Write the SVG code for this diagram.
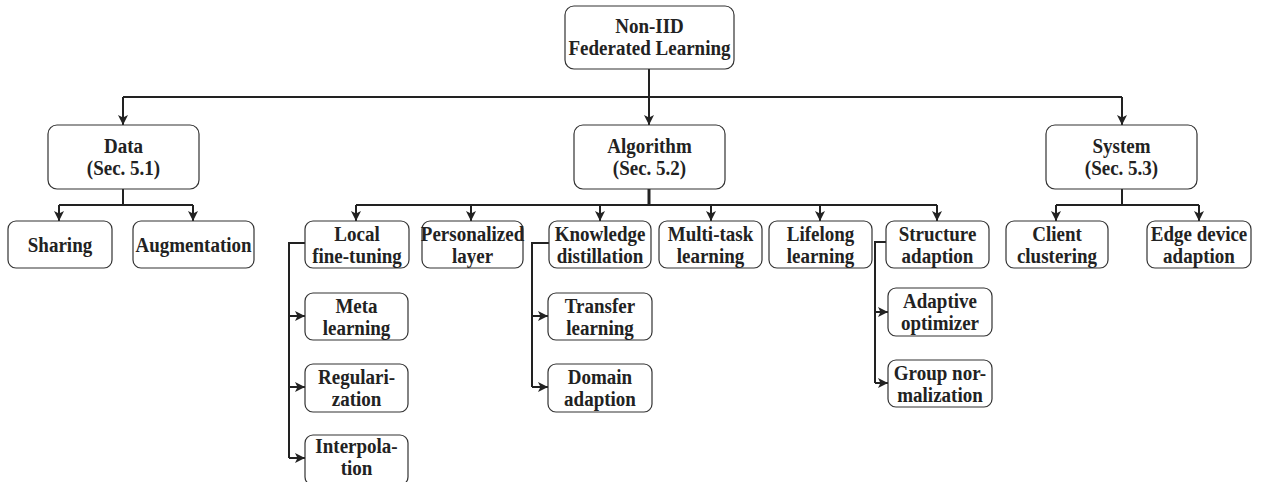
<svg xmlns="http://www.w3.org/2000/svg" width="1265" height="482" viewBox="0 0 1265 482">
<defs>
<style>
.box{fill:#fff;stroke:#333;stroke-width:1.2}
.t{font-family:"Liberation Serif","Times New Roman",serif;font-weight:bold;font-size:19px;fill:#222;text-anchor:middle}
.c{fill:none;stroke:#222;stroke-width:2}
</style>
<marker id="ah" markerUnits="userSpaceOnUse" markerWidth="10" markerHeight="10" viewBox="0 0 10 10" refX="10" refY="5" orient="auto">
<path d="M0,0 L10,5 L0,10 L2.5,5 z" fill="#222"/>
</marker>
</defs>
<rect width="1265" height="482" fill="#fff"/>
<g id="connectors">
<path class="c" d="M649,69 V97"/>
<path class="c" d="M123,97 H1122"/>
<path class="c" d="M123,97 V125" marker-end="url(#ah)"/>
<path class="c" d="M649,97 V125" marker-end="url(#ah)"/>
<path class="c" d="M1122,97 V125" marker-end="url(#ah)"/>
<path class="c" d="M123,189 V205 M59,205 H193"/>
<path class="c" d="M59,205 V221" marker-end="url(#ah)"/>
<path class="c" d="M193,205 V221" marker-end="url(#ah)"/>
<path class="c" d="M649,189 V205" style="stroke-width:3"/>
<path class="c" d="M356,205 H937"/>
<path class="c" d="M356,205 V221" marker-end="url(#ah)"/>
<path class="c" d="M471,205 V221" marker-end="url(#ah)"/>
<path class="c" d="M600,205 V221" marker-end="url(#ah)"/>
<path class="c" d="M711,205 V221" marker-end="url(#ah)"/>
<path class="c" d="M820,205 V221" marker-end="url(#ah)"/>
<path class="c" d="M937,205 V221" marker-end="url(#ah)"/>
<path class="c" d="M1122,189 V205 M1056,205 H1199"/>
<path class="c" d="M1056,205 V221" marker-end="url(#ah)"/>
<path class="c" d="M1199,205 V221" marker-end="url(#ah)"/>
<path class="c" d="M305,243 H289 V458"/>
<path class="c" d="M289,316 H305" marker-end="url(#ah)"/>
<path class="c" d="M289,387 H305" marker-end="url(#ah)"/>
<path class="c" d="M289,458 H305" marker-end="url(#ah)"/>
<path class="c" d="M549,243 H532 V387"/>
<path class="c" d="M532,316 H548" marker-end="url(#ah)"/>
<path class="c" d="M532,387 H548" marker-end="url(#ah)"/>
<path class="c" d="M886,242 H875 V383"/>
<path class="c" d="M875,312 H888" marker-end="url(#ah)"/>
<path class="c" d="M875,383 H888" marker-end="url(#ah)"/>
</g>
<g id="root"><rect class="box" x="565" y="6" width="169" height="63" rx="9"/><text class="t" transform="translate(649.5 33) scale(1 1.15)">Non-IID</text><text class="t" transform="translate(649.5 55) scale(1 1.15)">Federated Learning</text></g>
<g id="data"><rect class="box" x="48" y="125" width="151" height="64" rx="9"/><text class="t" transform="translate(123.5 153) scale(1 1.15)">Data</text><text class="t" transform="translate(123.5 175) scale(1 1.15)">(Sec. 5.1)</text></g>
<g id="algorithm"><rect class="box" x="574" y="125" width="151" height="64" rx="9"/><text class="t" transform="translate(649.5 153) scale(1 1.15)">Algorithm</text><text class="t" transform="translate(649.5 175) scale(1 1.15)">(Sec. 5.2)</text></g>
<g id="system"><rect class="box" x="1046" y="125" width="151" height="64" rx="9"/><text class="t" transform="translate(1121.5 153) scale(1 1.15)">System</text><text class="t" transform="translate(1121.5 175) scale(1 1.15)">(Sec. 5.3)</text></g>
<g id="sharing"><rect class="box" x="8" y="221" width="104" height="47" rx="8"/><text class="t" transform="translate(60 252) scale(1 1.15)">Sharing</text></g>
<g id="augmentation"><rect class="box" x="133" y="221" width="121" height="47" rx="8"/><text class="t" transform="translate(193.5 252) scale(1 1.15)">Augmentation</text></g>
<g id="local"><rect class="box" x="305" y="221" width="104" height="47" rx="8"/><text class="t" transform="translate(357 241) scale(1 1.15)">Local</text><text class="t" transform="translate(357 263) scale(1 1.15)">fine-tuning</text></g>
<g id="personalized"><rect class="box" x="422" y="221" width="101" height="47" rx="8"/><text class="t" transform="translate(472.5 241) scale(1 1.15)">Personalized</text><text class="t" transform="translate(472.5 263) scale(1 1.15)">layer</text></g>
<g id="knowledge"><rect class="box" x="549" y="221" width="102" height="47" rx="8"/><text class="t" transform="translate(600 241) scale(1 1.15)">Knowledge</text><text class="t" transform="translate(600 263) scale(1 1.15)">distillation</text></g>
<g id="multitask"><rect class="box" x="659" y="221" width="103" height="47" rx="8"/><text class="t" transform="translate(710.5 241) scale(1 1.15)">Multi-task</text><text class="t" transform="translate(710.5 263) scale(1 1.15)">learning</text></g>
<g id="lifelong"><rect class="box" x="769" y="221" width="103" height="47" rx="8"/><text class="t" transform="translate(820.5 241) scale(1 1.15)">Lifelong</text><text class="t" transform="translate(820.5 263) scale(1 1.15)">learning</text></g>
<g id="structure"><rect class="box" x="886" y="221" width="103" height="47" rx="8"/><text class="t" transform="translate(937.5 241) scale(1 1.15)">Structure</text><text class="t" transform="translate(937.5 263) scale(1 1.15)">adaption</text></g>
<g id="client"><rect class="box" x="1006" y="221" width="102" height="47" rx="8"/><text class="t" transform="translate(1057 241) scale(1 1.15)">Client</text><text class="t" transform="translate(1057 263) scale(1 1.15)">clustering</text></g>
<g id="edge"><rect class="box" x="1147" y="221" width="104" height="47" rx="8"/><text class="t" transform="translate(1199 241) scale(1 1.15)">Edge device</text><text class="t" transform="translate(1199 263) scale(1 1.15)">adaption</text></g>
<g id="meta"><rect class="box" x="305" y="293" width="103" height="47" rx="8"/><text class="t" transform="translate(356.5 313) scale(1 1.15)">Meta</text><text class="t" transform="translate(356.5 335) scale(1 1.15)">learning</text></g>
<g id="regularization"><rect class="box" x="305" y="364" width="103" height="48" rx="8"/><text class="t" transform="translate(356.5 384) scale(1 1.15)">Regulari-</text><text class="t" transform="translate(356.5 406) scale(1 1.15)">zation</text></g>
<g id="interpolation"><rect class="box" x="305" y="435" width="103" height="50" rx="8"/><text class="t" transform="translate(356.5 453) scale(1 1.15)">Interpola-</text><text class="t" transform="translate(356.5 475) scale(1 1.15)">tion</text></g>
<g id="transfer"><rect class="box" x="548" y="293" width="104" height="47" rx="8"/><text class="t" transform="translate(600 313) scale(1 1.15)">Transfer</text><text class="t" transform="translate(600 335) scale(1 1.15)">learning</text></g>
<g id="domain"><rect class="box" x="548" y="364" width="104" height="48" rx="8"/><text class="t" transform="translate(600 384) scale(1 1.15)">Domain</text><text class="t" transform="translate(600 406) scale(1 1.15)">adaption</text></g>
<g id="adaptive"><rect class="box" x="888" y="288" width="104" height="48" rx="8"/><text class="t" transform="translate(940 308) scale(1 1.15)">Adaptive</text><text class="t" transform="translate(940 330) scale(1 1.15)">optimizer</text></g>
<g id="group"><rect class="box" x="888" y="360" width="104" height="47" rx="8"/><text class="t" transform="translate(940 380) scale(1 1.15)">Group nor-</text><text class="t" transform="translate(940 402) scale(1 1.15)">malization</text></g>
</svg>
